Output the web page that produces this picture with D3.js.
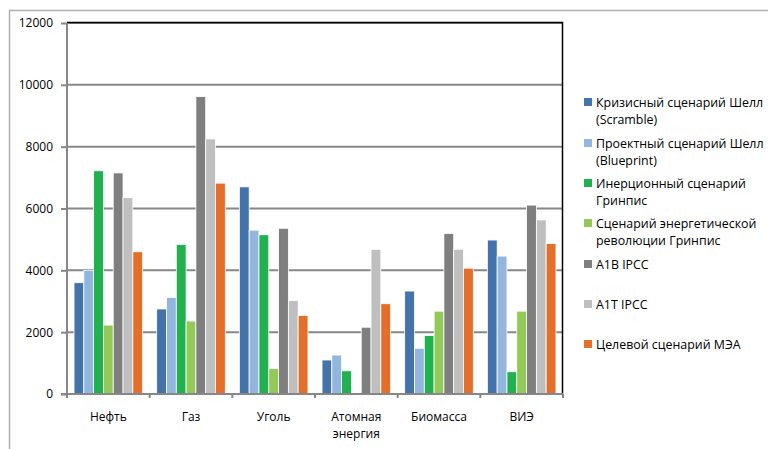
<!DOCTYPE html>
<html>
<head>
<meta charset="utf-8">
<script src="https://cdn.jsdelivr.net/npm/d3@7"></script>
<style>
  html, body { margin: 0; padding: 0; background: #fff; }
  svg { display: block; }
  text { font-family: "Open Sans", "Liberation Sans", sans-serif; fill: #000; }
</style>
</head>
<body>
<svg id="chart" width="768" height="449"></svg>
<script>
// Energy sources
const categories = [["Нефть"], ["Газ"], ["Уголь"], ["Атомная", "энергия"], ["Биомасса"], ["ВИЭ"]];

// Scenarios (legend entries, possibly wrapped on two lines)
const seriesNames = [
  ["Кризисный сценарий Шелл", "(Scramble)"],
  ["Проектный сценарий Шелл", "(Blueprint)"],
  ["Инерционный сценарий", "Гринпис"],
  ["Сценарий энергетической", "революции Гринпис"],
  ["A1B IPCC"],
  ["A1T IPCC"],
  ["Целевой сценарий МЭА"]
];
const seriesColors = ["#4472aa", "#93b6df", "#21b14f", "#93c958", "#7f7f7f", "#bfbfbf", "#e46f2a"];

// Values per scenario, in the order of categories
const scramble   = [3600, 2750, 6700, 1100, 3330, 4980];
const blueprint  = [4000, 3120, 5300, 1260, 1480, 4460];
const gpInertia  = [7220, 4840, 5150,  750, 1890,  720];
const gpRevol    = [2230, 2360,  820,    0, 2680, 2680];
const a1b        = [7150, 9620, 5360, 2160, 5190, 6110];
const a1t        = [6350, 8250, 3020, 4680, 4680, 5630];
const ieaTarget  = [4600, 6820, 2540, 2920, 4070, 4870];
const seriesValues = [scramble, blueprint, gpInertia, gpRevol, a1b, a1t, ieaTarget];

const yTicks = [0, 2000, 4000, 6000, 8000, 10000, 12000];

const svg = d3.select("#chart");
const plot = { left: 67, right: 563, top: 23, bottom: 394 };

// Outer chart frame (top and left edges visible)
svg.append("path")
  .attr("d", "M9.5,449 V10.5 H768")
  .attr("fill", "none")
  .attr("stroke", "#b0b0b0")
  .attr("stroke-width", 1.5);

const y = d3.scaleLinear().domain([0, 12000]).range([plot.bottom, plot.top]);
const x0 = d3.scaleBand().domain(d3.range(categories.length)).range([plot.left, plot.right]).padding(0);
const gap = x0.step() * 0.085;
const x1 = d3.scaleBand().domain(d3.range(seriesValues.length)).range([gap, x0.step() - gap]).padding(0);

// Gridlines
svg.append("g")
  .selectAll("line")
  .data(yTicks.filter(t => t > 0))
  .join("line")
  .attr("x1", plot.left).attr("x2", plot.right)
  .attr("y1", d => y(d)).attr("y2", d => y(d))
  .attr("stroke", "#878787")
  .attr("stroke-width", 2);

// Plot area border on top and right
svg.append("path")
  .attr("d", `M${plot.left},${plot.top - 0.5} H${plot.right - 0.5} V${plot.bottom}`)
  .attr("fill", "none")
  .attr("stroke", "#000")
  .attr("stroke-width", 1.5);

// Bars
const groups = svg.append("g")
  .selectAll("g")
  .data(categories.map((c, i) => i))
  .join("g")
  .attr("transform", i => `translate(${x0(i)},0)`);

groups.selectAll("rect")
  .data(i => seriesValues.map((vals, s) => ({ s, v: vals[i] })))
  .join("rect")
  .attr("x", d => x1(d.s))
  .attr("width", x1.bandwidth())
  .attr("y", d => y(d.v))
  .attr("height", d => y(0) - y(d.v))
  .attr("fill", d => seriesColors[d.s])
  .attr("stroke", d => d.v > 0 ? "#fff" : "none")
  .attr("stroke-width", 0.8);

// Y axis
const yAxis = svg.append("g")
  .attr("transform", `translate(${plot.left},0)`)
  .call(d3.axisLeft(y).tickValues(yTicks).tickSize(6).tickPadding(8).tickFormat(d3.format("d")));
yAxis.select(".domain").attr("stroke", "#878787").attr("stroke-width", 2)
  .attr("d", `M0,${plot.top} V${plot.bottom}`);
yAxis.selectAll(".tick line").attr("stroke", "#878787").attr("stroke-width", 2);
yAxis.selectAll(".tick text").style("font-size", "12px").attr("fill", "#000");

// X axis with ticks at category boundaries
const xAxisG = svg.append("g");
xAxisG.append("line")
  .attr("x1", plot.left - 6).attr("x2", plot.right)
  .attr("y1", plot.bottom).attr("y2", plot.bottom)
  .attr("stroke", "#878787").attr("stroke-width", 2);
xAxisG.selectAll("line.tk")
  .data(d3.range(categories.length + 1))
  .join("line")
  .attr("class", "tk")
  .attr("x1", i => plot.left + i * x0.step())
  .attr("x2", i => plot.left + i * x0.step())
  .attr("y1", plot.bottom).attr("y2", plot.bottom + 4)
  .attr("stroke", "#878787").attr("stroke-width", 2);

const xLabels = xAxisG.selectAll("text.cat")
  .data(categories)
  .join("text")
  .attr("class", "cat")
  .attr("text-anchor", "middle")
  .attr("x", (d, i) => x0(i) + x0.step() / 2)
  .attr("y", 421)
  .style("font-size", "12px");
xLabels.selectAll("tspan")
  .data(d => d)
  .join("tspan")
  .attr("x", function () { return this.parentNode.getAttribute("x"); })
  .attr("dy", (d, i) => i === 0 ? 0 : 17)
  .text(d => d);

// Legend
const legendTops = [103, 144, 184, 224, 265, 305, 345];
const legend = svg.append("g")
  .selectAll("g")
  .data(seriesNames.map((n, i) => ({ n, i })))
  .join("g")
  .attr("transform", d => `translate(584,${legendTops[d.i]})`);
legend.append("rect")
  .attr("x", 0).attr("y", -5)
  .attr("width", 8).attr("height", 8)
  .attr("fill", d => seriesColors[d.i]);
legend.append("text")
  .attr("x", 12).attr("y", 4)
  .style("font-size", "12.4px")
  .selectAll("tspan")
  .data(d => d.n)
  .join("tspan")
  .attr("x", 12)
  .attr("dy", (d, i) => i === 0 ? 0 : 17)
  .text(d => d);
</script>
</body>
</html>
